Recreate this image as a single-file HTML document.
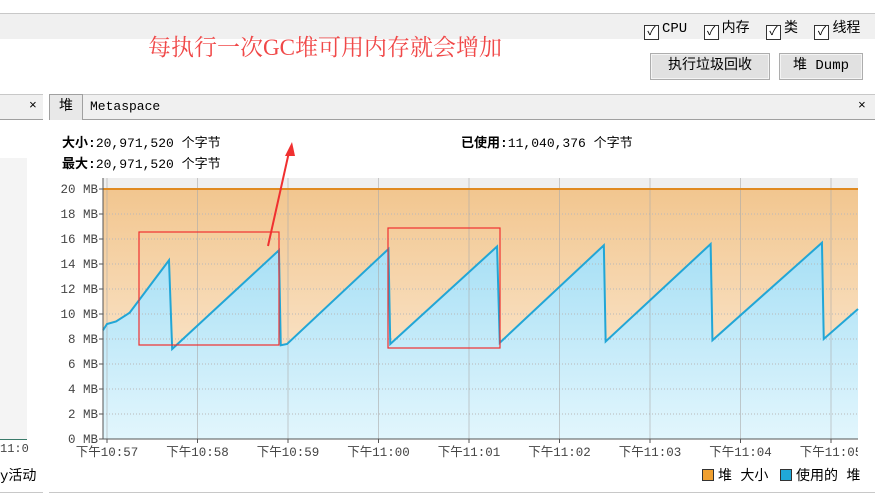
<!DOCTYPE html>
<html><head><meta charset="utf-8">
<style>
body{margin:0;width:875px;height:495px;overflow:hidden;background:#fff;font-family:"Liberation Mono","Noto Sans CJK SC",monospace;font-size:13px;color:#000;position:relative}
.abs{position:absolute}
.cb{display:inline-block;width:13px;height:13px;border:1px solid #333;background:#fff;vertical-align:-3px;margin-right:3px;font-size:12px;line-height:12px;text-align:center}
.btn{position:absolute;top:53px;height:25px;border:1px solid #adadad;background:#e1e1e1;box-shadow:inset 0 0 0 1px #f4f4f4;font-size:14px;line-height:25px;text-align:center}
</style></head><body>
<div class="abs" style="left:0;top:13px;width:875px;height:25px;background:#f0f0f0;border-top:1px solid #c8c8c8"></div>
<div class="abs" style="left:644px;top:17px;font-size:14px;white-space:nowrap">
<span><span class="cb">✓</span>CPU</span>
<span style="margin-left:8px"><span class="cb">✓</span>内存</span>
<span style="margin-left:8px"><span class="cb">✓</span>类</span>
<span style="margin-left:8px"><span class="cb">✓</span>线程</span>
</div>
<div class="abs" style="left:148px;top:29px;font-family:'Liberation Serif','Noto Serif CJK SC',serif;font-size:23px;color:#f04848">每执行一次GC堆可用内存就会增加</div>
<div class="btn" style="left:650px;width:118px">执行垃圾回收</div>
<div class="btn" style="left:779px;width:82px">堆 Dump</div>

<div class="abs" style="left:0;top:94px;width:43px;height:24px;background:#f0f0f0;border-top:1px solid #c8c8c8;border-bottom:1px solid #a0a0a0"></div>
<div class="abs" style="left:29px;top:98px;font-size:13px">×</div>
<div class="abs" style="left:0;top:158px;width:27px;height:281px;background:#f4f4f4;border-bottom:1px solid #3a7a6a"></div>
<div class="abs" style="left:0;top:442px;font-size:12px;color:#444">11:0</div>
<div class="abs" style="left:0;top:465px;font-size:14px">y活动</div>
<div class="abs" style="left:0;top:492px;width:43px;height:1px;background:#c8c8c8"></div>

<div class="abs" style="left:49px;top:94px;width:826px;height:24px;background:#f0f0f0;border-top:1px solid #c8c8c8;border-bottom:1px solid #a0a0a0"></div>
<div class="abs" style="left:49px;top:94px;width:32px;height:25px;background:#e8e8e8;border:1px solid #a0a0a0;border-bottom:none;text-align:center;line-height:24px;font-size:14px">堆</div>
<div class="abs" style="left:90px;top:99px;font-size:13px">Metaspace</div>
<div class="abs" style="left:858px;top:98px;font-size:13px">×</div>

<div class="abs" style="left:62px;top:132px;font-size:13px"><b>大小:</b>20,971,520 个字节</div>
<div class="abs" style="left:62px;top:153px;font-size:13px"><b>最大:</b>20,971,520 个字节</div>
<div class="abs" style="left:461px;top:132px;font-size:13px"><b>已使用:</b>11,040,376 个字节</div>

<svg class="abs" style="left:0;top:0" width="875" height="495" id="chart">
<defs>
<linearGradient id="og" x1="0" y1="0" x2="0" y2="1"><stop offset="0" stop-color="#f2c68f"/><stop offset="1" stop-color="#fdf0e0"/></linearGradient>
<linearGradient id="bg" x1="0" y1="0" x2="0" y2="1"><stop offset="0" stop-color="#a6dff5"/><stop offset="1" stop-color="#e2f6fd"/></linearGradient>
</defs>
</svg>
<div class="abs" style="left:49px;top:492px;width:826px;height:1px;background:#c8c8c8"></div>
<div class="abs" style="left:702px;top:465px;font-size:14px"><span style="display:inline-block;width:10px;height:10px;background:#f0a030;border:1px solid #333;vertical-align:-1px;margin-right:4px"></span>堆 大小</div>
<div class="abs" style="left:780px;top:465px;font-size:14px"><span style="display:inline-block;width:10px;height:10px;background:#20a8d8;border:1px solid #333;vertical-align:-1px;margin-right:4px"></span>使用的 堆</div>

<script>
// minutes since 10:57
const times=[-0.044,0.0,0.1,0.25,0.685,0.72,1.9,1.92,1.99,3.11,3.13,4.31,4.34,5.49,5.51,6.67,6.69,7.9,7.92,8.3];
const usedMB=[8.7,9.2,9.4,10.1,14.3,7.2,15.1,7.5,7.6,15.2,7.6,15.4,7.7,15.5,7.8,15.6,7.9,15.7,8.0,10.4];
const heapSizeMB=20;
const yTicks=[0,2,4,6,8,10,12,14,16,18,20];
const xTickLabels=["下午10:57","下午10:58","下午10:59","下午11:00","下午11:01","下午11:02","下午11:03","下午11:04","下午11:05"];

const svg=document.getElementById('chart');
const NS='http://www.w3.org/2000/svg';
const L=103,R=858,T=178;
const x=m=>107+m*90.5;
const y=v=>439-v*12.5;
function mk(tag,at,name){const e=document.createElementNS(NS,tag);for(const k in at)e.setAttribute(k,at[k]);


svg.appendChild(e);return e;}
mk('rect',{x:L,y:T,width:R-L,height:y(heapSizeMB)-T,fill:'#efefef'},'plot-top-band');
mk('rect',{x:L,y:y(heapSizeMB),width:R-L,height:y(0)-y(heapSizeMB),fill:'url(#og)'},'heap-size-area');
let d='M'+L+','+y(0);
times.forEach((t,i)=>{d+=' L'+Math.max(L,Math.min(R,x(t)))+','+y(usedMB[i]);});
d+=' L'+R+','+y(0)+' Z';
mk('path',{d:d,fill:'url(#bg)'},'used-heap-area');
yTicks.forEach(v=>{
 if(v>0&&v<20)mk('line',{x1:L,x2:R,y1:y(v),y2:y(v),stroke:'#b8b8b8','stroke-dasharray':'1,2'},'grid-line-y');
 mk('line',{x1:L-4,x2:L,y1:y(v),y2:y(v),stroke:'#555'},'y-tick');
 const t=mk('text',{x:L-5,y:y(v)+4,'text-anchor':'end','font-size':'12.5','fill':'#444','font-family':'Liberation Mono,monospace'},'y-tick-label');t.textContent=v+' MB';
});
xTickLabels.forEach((lab,i)=>{
 const xx=x(i);
 mk('line',{x1:xx,x2:xx,y1:T,y2:y(0),stroke:'#aaa','stroke-opacity':'0.6'},'grid-line-x');
 mk('line',{x1:xx,x2:xx,y1:y(0),y2:y(0)+4,stroke:'#555'},'x-tick');
 const t=mk('text',{x:xx,y:y(0)+17,'text-anchor':'middle','font-size':'12.5','fill':'#444','font-family':'Liberation Mono,Noto Sans CJK SC,monospace'},'x-tick-label');t.textContent=lab;
});
mk('rect',{x:R,y:440,width:17,height:20,fill:'#fff'},'x-label-clip');
mk('line',{x1:L,x2:R,y1:y(heapSizeMB),y2:y(heapSizeMB),stroke:'#e08a20','stroke-width':2},'heap-size-line');
let p='';times.forEach((t,i)=>{p+=(i?' L':'M')+Math.max(L,Math.min(R,x(t)))+','+y(usedMB[i]);});
mk('path',{d:p,fill:'none',stroke:'#22a6d6','stroke-width':2},'used-heap-line');
mk('line',{x1:L,x2:L,y1:T,y2:y(0),stroke:'#555'},'y-axis');
mk('line',{x1:L,x2:R,y1:y(0),y2:y(0),stroke:'#555'},'x-axis');
mk('rect',{x:139,y:232,width:140,height:113,fill:'none',stroke:'#f03030','stroke-width':1.2},'highlight-box-1');
mk('rect',{x:388,y:228,width:112,height:120,fill:'none',stroke:'#f03030','stroke-width':1.2},'highlight-box-2');
mk('line',{x1:268,y1:246,x2:289,y2:152,stroke:'#f03030','stroke-width':2},'annotation-arrow');
mk('path',{d:'M292,142 L285,156 L295,156 Z',fill:'#f03030'},'annotation-arrow-head');
</script>
</body></html>
